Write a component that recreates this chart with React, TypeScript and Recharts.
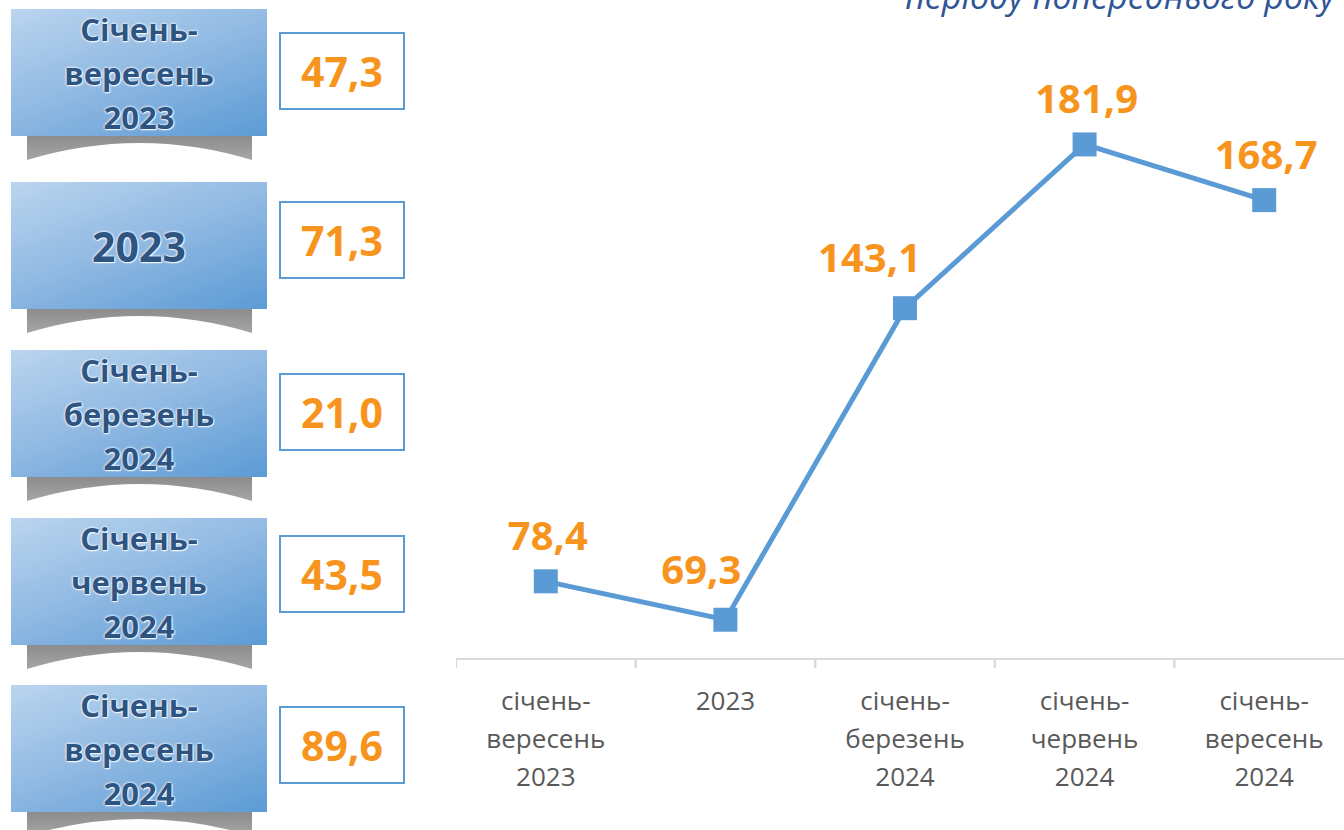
import * as React from 'react';
import { LineChart, Line, XAxis, YAxis, LabelList } from 'recharts';

// left panel: periods and their values
const periods = ['Січень-\nвересень\n2023', '2023', 'Січень-\nберезень\n2024', 'Січень-\nчервень\n2024', 'Січень-\nвересень\n2024'];
const periodValues = [47.3, 71.3, 21.0, 43.5, 89.6];

// right chart: index values
const categories = ['січень-\nвересень\n2023', '2023', 'січень-\nберезень\n2024', 'січень-\nчервень\n2024', 'січень-\nвересень\n2024'];
const indexValues = [78.4, 69.3, 143.1, 181.9, 168.7];

const data = categories.map((c, i) => ({ name: c, value: indexValues[i] }));

const fmt = (v: number) => v.toFixed(1).replace('.', ',');

const CHART_W = 898;
const CHART_H = 830;
const AXIS_H = 171;
const MARGIN = { top: 68, right: 0, bottom: 0, left: 0 };
const AXIS_Y = CHART_H - AXIS_H;
const BAND = CHART_W / categories.length;

const FONT = '"Open Sans", "DejaVu Sans", sans-serif';
const ORANGE = '#F7941D';
const BLUE = '#5B9BD5';

const boxTops = [9, 182, 350, 518, 685];
const valueTops = [32, 201, 373, 535, 706];

function CategoryTick(props: any) {
    const { x, payload } = props;
    const lines = String(payload.value).split('\n');
    return (
        <g>
            <line x1={x - BAND / 2} x2={x - BAND / 2} y1={AXIS_Y} y2={AXIS_Y + 9} stroke="#D9D9D9" strokeWidth={2} />
            <line x1={x + BAND / 2} x2={x + BAND / 2} y1={AXIS_Y} y2={AXIS_Y + 9} stroke="#D9D9D9" strokeWidth={2} />
            <text textAnchor="middle" fill="#595959" fontSize={26} fontFamily={FONT}>
                {lines.map((l, i) => (
                    <tspan key={i} x={x} y={AXIS_Y + 51 + i * 38}>{l}</tspan>
                ))}
            </text>
        </g>
    );
}

function PointLabel(props: any) {
    const { x, y, value, index } = props;
    const rising = index < indexValues.length - 1 && indexValues[index + 1] > value;
    return (
        <text
            x={rising ? x + 16 : x + 2}
            y={rising ? y - 36 : y - 31}
            textAnchor={rising ? 'end' : 'middle'}
            fill={ORANGE}
            fontSize={40}
            fontWeight="bold"
            fontFamily={FONT}
        >
            {fmt(value)}
        </text>
    );
}

function PeriodBox({ label, top }: { label: string; top: number }) {
    const lines = label.split('\n');
    const single = lines.length === 1;
    return (
        <>
            <svg style={{ position: 'absolute', left: 27, top: top + 127 }} width={225} height={25}>
                <defs>
                    <linearGradient id="shade" x1="0" y1="0" x2="0" y2="1">
                        <stop offset="0" stopColor="#8c8c8c" />
                        <stop offset="1" stopColor="#a6a6a6" />
                    </linearGradient>
                </defs>
                <path d="M0,0 H225 V24 Q112.5,-10 0,24 Z" fill="url(#shade)" />
            </svg>
            <div
                style={{
                    position: 'absolute',
                    left: 11,
                    top,
                    width: 256,
                    height: 127,
                    background: 'linear-gradient(160deg, #BAD5EF 0%, #8FB8E2 50%, #5B9BD5 100%)',
                    display: 'flex',
                    flexDirection: 'column',
                    alignItems: 'center',
                    justifyContent: 'center',
                    fontFamily: FONT,
                    fontWeight: 700,
                    fontSize: single ? 41 : 31,
                    lineHeight: '44px',
                    color: '#2E5482',
                    textShadow: '0 0 3px #fff, 0 0 2px #fff, 1px 1px 1px rgba(255,255,255,0.8)',
                }}
            >
                {lines.map((l, i) => (
                    <div key={i}>{l}</div>
                ))}
            </div>
        </>
    );
}

export default function App() {
    return (
        <div style={{ position: 'absolute', left: 0, top: 0, width: 1344, height: 830, overflow: 'hidden', background: '#fff' }}>
            {periods.map((p, i) => (
                <PeriodBox key={i} label={p} top={boxTops[i]} />
            ))}
            {periodValues.map((v, i) => (
                <div
                    key={i}
                    style={{
                        position: 'absolute',
                        left: 279,
                        top: valueTops[i],
                        width: 122,
                        height: 74,
                        border: `2px solid ${BLUE}`,
                        background: '#fff',
                        display: 'flex',
                        alignItems: 'center',
                        justifyContent: 'center',
                        fontFamily: FONT,
                        fontWeight: 700,
                        fontSize: 41,
                        color: ORANGE,
                    }}
                >
                    {fmt(v)}
                </div>
            ))}
            <svg style={{ position: 'absolute', left: 0, top: 0 }} width={1344} height={40}>
                <text x={1335} y={9} textAnchor="end" fill="#2F5597" fontSize={34} fontStyle="italic" fontFamily={FONT}>
                    періоду попереднього року
                </text>
            </svg>
            <div style={{ position: 'absolute', left: 456, top: 0 }}>
                <LineChart width={CHART_W} height={CHART_H} data={data} margin={MARGIN}>
                    <XAxis
                        dataKey="name"
                        interval={0}
                        height={AXIS_H}
                        padding={{ left: BAND / 2, right: BAND / 2 }}
                        tickLine={false}
                        axisLine={{ stroke: '#D9D9D9', strokeWidth: 2 }}
                        tick={<CategoryTick />}
                    />
                    <YAxis hide domain={[60, 200]} />
                    <Line
                        isAnimationActive={false}
                        dataKey="value"
                        stroke={BLUE}
                        strokeWidth={5}
                        activeDot={false}
                        dot={(p: any) => (
                            <rect key={p.index} x={p.cx - 12} y={p.cy - 12} width={24} height={24} fill={BLUE} />
                        )}
                    >
                        <LabelList dataKey="value" content={<PointLabel />} />
                    </Line>
                </LineChart>
            </div>
        </div>
    );
}
